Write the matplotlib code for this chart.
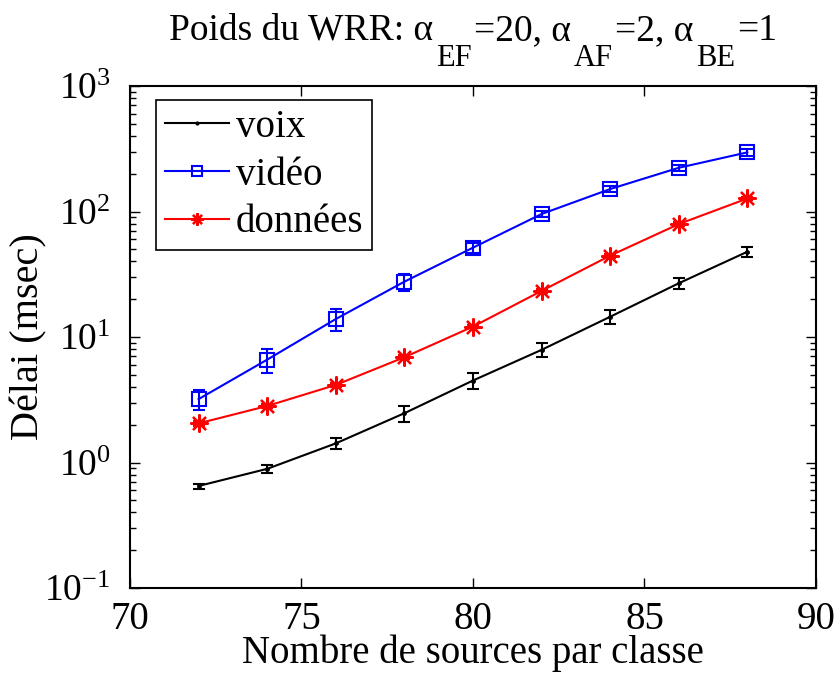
import matplotlib
matplotlib.use("Agg")
import matplotlib.pyplot as plt
from matplotlib.lines import Line2D
from matplotlib.ticker import LogLocator, NullFormatter, FixedLocator

plt.rcParams["font.family"] = "Liberation Serif"
plt.rcParams["mathtext.fontset"] = "custom"
plt.rcParams["mathtext.rm"] = "Liberation Serif"
plt.rcParams["mathtext.it"] = "Liberation Serif:italic"
plt.rcParams["mathtext.default"] = "regular"

# Nombre de sources par classe
sources = [72, 74, 76, 78, 80, 82, 84, 86, 88]

# délais moyens (msec) et demi-largeur des intervalles de confiance
voix = [0.65, 0.89, 1.42, 2.47, 4.5, 7.9, 14.5, 26.8, 47.8]
voix_err = [0.03, 0.06, 0.15, 0.35, 0.65, 1.0, 1.8, 2.7, 4.0]
video = [3.2, 6.6, 13.9, 27.6, 51.5, 95.5, 151, 223, 296]
video_err = [0.58, 1.4, 2.8, 4.4, 5.0, 5.0, 8.0, 12.0, 20.0]
donnees = [2.05, 2.82, 4.15, 6.9, 12.1, 23.3, 44.5, 79.4, 127]
donnees_err = [0.08, 0.1, 0.15, 0.25, 0.4, 0.8, 1.5, 2.5, 4.0]

labels = ["voix", "vidéo", "données"]
x_ticks = [70, 75, 80, 85, 90]

W, H = 838, 673
fig = plt.figure(figsize=(W / 100, H / 100), dpi=100)
fig.patch.set_facecolor("white")
ax = fig.add_axes([0.1551, 0.1263, 0.8186, 0.7459])

# style commun des trois courbes (taille des marqueurs: courbe, légende)
styles = [
    dict(color="black", marker="."),
    dict(color="#0000ff", marker="s", markerfacecolor="none",
         markeredgewidth=1.5),
    dict(color="#ff0000", marker=(8, 2, 0), markeredgewidth=1.6),
]
msizes = [(5, 4), (10, 7), (13, 9)]
series = [(voix, voix_err), (video, video_err), (donnees, donnees_err)]

handles = []
for (y, err), st, (ms, ms_leg), lab in zip(series, styles, msizes, labels):
    ax.errorbar(sources, y, yerr=err, lw=1.5, elinewidth=1.5, capsize=4,
                capthick=1.5, markersize=ms, **st)
    handles.append(Line2D([], [], lw=1.5, markersize=ms_leg, label=lab, **st))

ax.set_yscale("log")
ax.set_xlim(70, 90)
ax.set_ylim(0.1, 1000)
ax.xaxis.set_major_locator(FixedLocator(x_ticks))
ax.yaxis.set_major_locator(LogLocator(base=10, numticks=10))
ax.yaxis.set_minor_locator(LogLocator(base=10, subs=range(2, 10), numticks=10))
ax.yaxis.set_minor_formatter(NullFormatter())

ax.tick_params(which="both", direction="in", top=True, right=True,
               labelsize=28, width=1.0)
ax.tick_params(which="major", length=7)
ax.tick_params(which="minor", length=4)
ax.tick_params(axis="x", pad=9)
ax.tick_params(axis="y", pad=14, labelsize=27)
for sp in ax.spines.values():
    sp.set_linewidth(1.5)

ax.set_xlabel("Nombre de sources par classe", fontsize=28, labelpad=-2)
ax.set_ylabel("Délai (msec)", fontsize=29)
ax.yaxis.set_label_coords(-0.12, 0.5)

leg = ax.legend(handles=handles, loc="upper left",
                bbox_to_anchor=(0.038, 0.972), fontsize=28, frameon=True,
                fancybox=False, framealpha=1, edgecolor="black",
                handlelength=1.65, handletextpad=0.18, borderpad=0.22,
                labelspacing=0.28, borderaxespad=0)
leg.get_frame().set_linewidth(1.2)

# titre avec indices posés sous la ligne de base
title_parts = [
    ("Poids du WRR: α", 27, 0, 0),
    ("EF", 22, -26, 3),
    ("=20, α", 27, 0, 2),
    ("AF", 22, -26, 3),
    ("=2, α", 27, 0, 2),
    ("BE", 22, -26, 3),
    ("=1", 27, 0, 2),
]
base_y = H - 40
renderer = fig.canvas.get_renderer()
pieces = []
x = 0.0
for s, size, dy, gap in title_parts:
    x += gap
    t = fig.text(0, 0, s, fontsize=size, ha="left", va="baseline")
    w = t.get_window_extent(renderer).width
    pieces.append((t, x, dy))
    x += w
x_center = (0.1551 + 0.8186 / 2) * W
x0 = x_center - x / 2
for t, xo, dy in pieces:
    t.set_position(((x0 + xo) / W, (base_y + dy) / H))

fig.savefig("out.png", dpi=100, facecolor="white")
